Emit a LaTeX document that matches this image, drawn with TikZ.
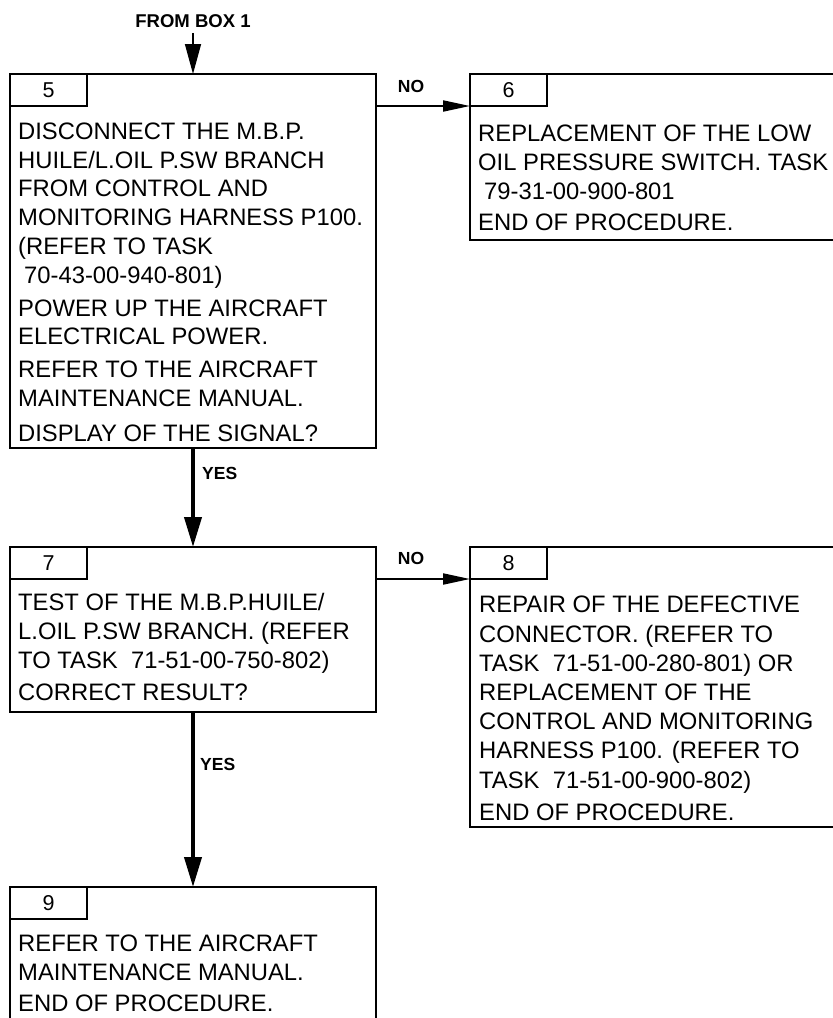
\documentclass[tikz,border=0pt]{standalone}
\usepackage{fontspec}
\setmainfont{Liberation Sans}
\usetikzlibrary{arrows.meta}
\tikzset{
  box/.style={draw, line width=2.2pt, rectangle, inner sep=0pt, outer sep=0pt, anchor=north west},
  tab/.style={draw, line width=2.2pt, rectangle, inner sep=0pt, outer sep=0pt, anchor=north west,
    minimum width=77pt, minimum height=32pt, font=\fontsize{21.5}{21.5}\selectfont},
  body/.style={anchor=base west, inner sep=0pt, align=left, font=\fontsize{23.8}{28.8}\selectfont},
  lbl/.style={font=\bfseries\fontsize{17.5}{17.5}\selectfont, inner sep=0pt},
  yesarrow/.style={line width=4pt, -{Triangle[length=30pt,width=17pt]}},
  noarrow/.style={line width=2pt, -{Triangle[length=27pt,width=11pt]}},
  fromarrow/.style={line width=1.5pt, -{Triangle[length=30pt,width=16pt]}},
}
\begin{document}
\begin{tikzpicture}[x=1pt,y=-1pt]
\useasboundingbox (0,0) rectangle (833,1018);
\clip (0,0) rectangle (833,1018);

% boxes
\node[box, minimum width=366pt, minimum height=374pt] (b5) at (10,74) {};
\node[box, minimum width=400pt, minimum height=166pt] (b6) at (470,74) {};
\node[box, minimum width=366pt, minimum height=165pt] (b7) at (10,547) {};
\node[box, minimum width=400pt, minimum height=280pt] (b8) at (470,547) {};
\node[box, minimum width=366pt, minimum height=200pt] (b9) at (10,887) {};

% number tabs
\node[tab] (t5) at (b5.north west) {5};
\node[tab] (t6) at (b6.north west) {6};
\node[tab] (t7) at (b7.north west) {7};
\node[tab] (t8) at (b8.north west) {8};
\node[tab] (t9) at (b9.north west) {9};

% body texts (base anchor = baseline of last line)
\node[body] (x5) at (18,441.3) {DISCONNECT THE M.B.P.\\ HUILE/L.OIL P.SW BRANCH\\ FROM CONTROL AND\\ MONITORING HARNESS P100.\\ (REFER TO TASK\\ \hspace*{6pt}70-43-00-940-801)\\[4pt] POWER UP THE AIRCRAFT\\ ELECTRICAL POWER.\\[4pt] REFER TO THE AIRCRAFT\\ MAINTENANCE MANUAL.\\[6pt] DISPLAY OF THE SIGNAL?};
\node[body] (x6) at (478,230.3) {REPLACEMENT OF THE LOW\\ OIL PRESSURE SWITCH. TASK\\ \hspace*{6pt}79-31-00-900-801\\[2pt] END OF PROCEDURE.};
\node[body] (x7) at (18,700.3) {TEST OF THE M.B.P.HUILE/\\ L.OIL P.SW BRANCH. (REFER\\ TO TASK\ \ 71-51-00-750-802)\\[3pt] CORRECT RESULT?};
\node[body, font=\fontsize{23.8}{29.2}\selectfont] (x8) at (479,820.3) {REPAIR OF THE DEFECTIVE\\ CONNECTOR. (REFER TO\\ TASK\ \ 71-51-00-280-801) OR\\ REPLACEMENT OF THE\\ CONTROL AND MONITORING\\ HARNESS P100. (REFER TO\\ TASK\ \ 71-51-00-900-802)\\[3pt] END OF PROCEDURE.};
\node[body] (x9) at (18,1011.3) {REFER TO THE AIRCRAFT\\ MAINTENANCE MANUAL.\\[2pt] END OF PROCEDURE.};

% labels
\node[lbl, font=\bfseries\fontsize{18.5}{18.5}\selectfont] (from1) at (193,21) {FROM BOX 1};
\node[lbl] (no1) at (411,86) {NO};
\node[lbl, anchor=west] (yes1) at (202,473) {YES};
\node[lbl] (no2) at (411,558) {NO};
\node[lbl, anchor=west] (yes2) at (200,764) {YES};

% connectors
\draw[fromarrow, shorten <=5pt] (from1.south) -- (b5.north);
\draw[yesarrow] (b5.south) -- (b7.north);
\draw[yesarrow] (b7.south) -- (b9.north);
\draw[noarrow] (t5.south -| b5.east) -- (t5.south -| b6.west);
\draw[noarrow] (t7.south -| b7.east) -- (t7.south -| b8.west);
\end{tikzpicture}
\end{document}
